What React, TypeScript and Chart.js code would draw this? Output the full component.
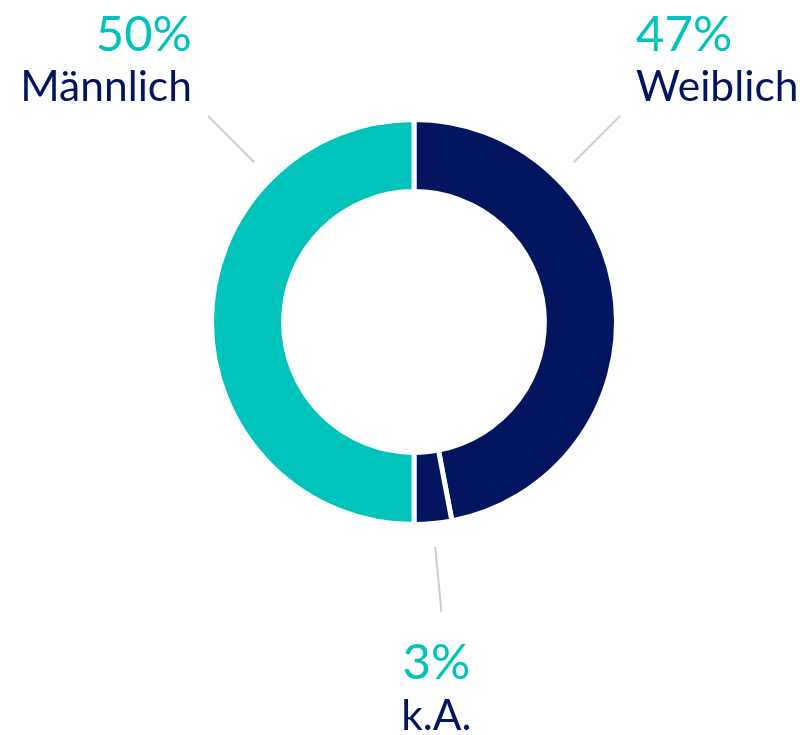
import React, { useEffect, useRef } from "react";
import { Chart, registerables } from "chart.js";

Chart.register(...registerables);

const categories = ["Weiblich", "k.A.", "Männlich"];
const values = [47, 3, 50];
const percentLabels = ["47%", "3%", "50%"];
const colors = ["#03155E", "#03155E", "#00C4BC"];
// leader-line direction in degrees clockwise from top; null = slice middle
const leaderAngles: (number | null)[] = [45, null, 315];

const TEAL = "#00C4BC";
const NAVY = "#03155E";
const FONT = "Lato, 'Open Sans', sans-serif";

const labelPlugin = {
  id: "outerLabels",
  afterDraw(chart: any) {
    const ctx = chart.ctx;
    const meta = chart.getDatasetMeta(0);
    const total = values.reduce((a, b) => a + b, 0);
    meta.data.forEach((arc: any, i: number) => {
      const { x: cx, y: cy, outerRadius, startAngle, endAngle } = arc.getProps(
        ["x", "y", "outerRadius", "startAngle", "endAngle"],
        true
      );
      let ang: number;
      if (leaderAngles[i] === null) {
        ang = (startAngle + endAngle) / 2;
      } else {
        ang = ((leaderAngles[i] as number) - 90) * (Math.PI / 180);
      }
      const r1 = outerRadius + 23.5;
      const r2 = outerRadius + 89;
      const sx = cx + Math.cos(ang) * r1;
      const sy = cy + Math.sin(ang) * r1;
      const ex = cx + Math.cos(ang) * r2;
      const ey = cy + Math.sin(ang) * r2;
      ctx.save();
      ctx.strokeStyle = "#CCCCCC";
      ctx.lineWidth = 2;
      ctx.beginPath();
      ctx.moveTo(sx, sy);
      ctx.lineTo(ex, ey);
      ctx.stroke();

      const cosA = Math.cos(ang);
      const sinA = Math.sin(ang);
      let tx: number, align: CanvasTextAlign, b1: number, b2: number;
      if (sinA > 0.5) {
        // below
        tx = ex - 5;
        align = "center";
        b1 = ey + 67;
        b2 = ey + 118;
      } else {
        tx = cosA < 0 ? ex - 16 : ex + 16;
        align = cosA < 0 ? "right" : "left";
        b1 = ey - 65;
        b2 = ey - 15;
      }
      ctx.textAlign = align;
      ctx.textBaseline = "alphabetic";
      ctx.fillStyle = TEAL;
      ctx.font = `49px ${FONT}`;
      ctx.fillText(percentLabels[i] ?? `${Math.round((values[i] / total) * 100)}%`, tx, b1);
      ctx.fillStyle = NAVY;
      ctx.font = `42.5px ${FONT}`;
      ctx.fillText(categories[i], tx, b2);
      ctx.restore();
    });
  },
};

export default function App() {
  const ref = useRef<HTMLCanvasElement>(null);
  useEffect(() => {
    if (!ref.current) return;
    const chart = new Chart(ref.current, {
      type: "doughnut",
      data: {
        labels: categories,
        datasets: [
          {
            data: values,
            backgroundColor: colors,
            borderColor: "#FFFFFF",
            borderWidth: 5,
            hoverOffset: 0,
          },
        ],
      },
      options: {
        animation: false,
        responsive: true,
        maintainAspectRatio: false,
        cutout: "64.4%",
        layout: { padding: { left: 209, right: 181, top: 117, bottom: 208 } },
        plugins: { legend: { display: false }, tooltip: { enabled: false } },
      },
      plugins: [labelPlugin],
    });
    return () => chart.destroy();
  }, []);
  return (
    <div style={{ position: "fixed", left: 0, top: 0, width: 800, height: 735, background: "#fff" }}>
      <canvas ref={ref} />
    </div>
  );
}
